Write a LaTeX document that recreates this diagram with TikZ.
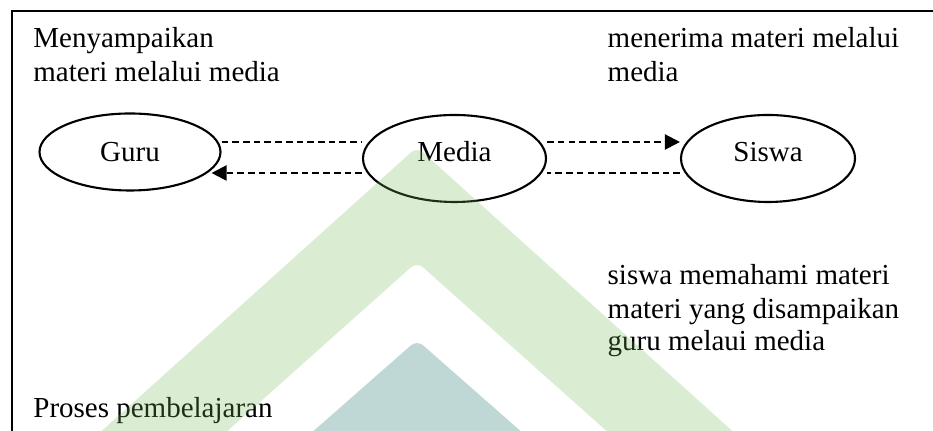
\documentclass[tikz,border=0pt]{standalone}
\usepackage{fontspec}
\setmainfont{Liberation Serif}
\usetikzlibrary{shapes.geometric,arrows.meta}
\definecolor{wmgreen}{RGB}{113,186,86}
\definecolor{wmteal}{RGB}{13,105,94}
\tikzset{
  bubble/.style={ellipse,draw,line width=0.6pt,inner sep=0pt,text height=1.9mm,text depth=1.3mm},
  conn/.style={line width=0.6pt,dash pattern=on 1.9pt off 1.15pt},
  tip/.style={-{Triangle[length=1.5mm,width=1.5mm]}},
  txt/.style={anchor=base west,inner sep=0pt},
  frame/.style={line width=0.6pt},
}
\begin{document}
\begin{tikzpicture}[font=\fontsize{8.25}{10}\selectfont]
\useasboundingbox (0,0) rectangle (9.33,4.31);
\clip (0,0) rectangle (9.33,4.31);
% Frame
\draw[frame] (0.117,-0.5) rectangle (9.8,4.20);

% Guru, media and siswa
\node[bubble,minimum width=1.81cm,minimum height=0.77cm,text depth=0pt] (guru) at (1.30,2.79) {Guru};
\node[bubble,minimum width=1.83cm,minimum height=0.87cm] (media) at (4.545,2.725) {Media};
\node[bubble,minimum width=1.74cm,minimum height=0.87cm] (siswa) at (7.68,2.725) {Siswa};

% Dashed lines between them
\coordinate (up) at (0,2.89);
\coordinate (lo) at (0,2.58);
\draw[conn] (guru.east |- up) -- (media.west |- up);
\draw[conn,tip] (media.east |- up) -- (siswa.west |- up);
\draw[conn] (siswa.west |- lo) -- (media.east |- lo);
\draw[conn,tip] (media.west |- lo) -- ([xshift=-1mm]guru.east |- lo);

% Texts
\node[txt] (give1) at (0.327,3.83) {Menyampaikan};
\node[txt] (give2) at (0.327,3.49) {materi melalui media};
\node[txt] (get1) at (6.07,3.83) {menerima materi melalui};
\node[txt] (get2) at (6.07,3.49) {media};
\node[txt] (und1) at (6.07,1.46) {siswa memahami materi};
\node[txt] (und2) at (6.07,1.125) {materi yang disampaikan};
\node[txt] (und3) at (6.07,0.80) {guru melaui media};
\node[txt] (proc) at (0.327,0.13) {Proses pembelajaran};

% Watermark
\begin{scope}[fill opacity=0.26,rounded corners=0.8mm]
\fill[wmgreen] (0.25,-0.69) -- (4.17,2.84) -- (8.09,-0.69) -- (6.84,-0.69) -- (4.17,1.69) -- (1.50,-0.69) -- cycle;
\fill[wmteal] (2.35,-0.69) -- (4.17,0.91) -- (5.99,-0.69) -- cycle;
\end{scope}
\end{tikzpicture}
\end{document}
